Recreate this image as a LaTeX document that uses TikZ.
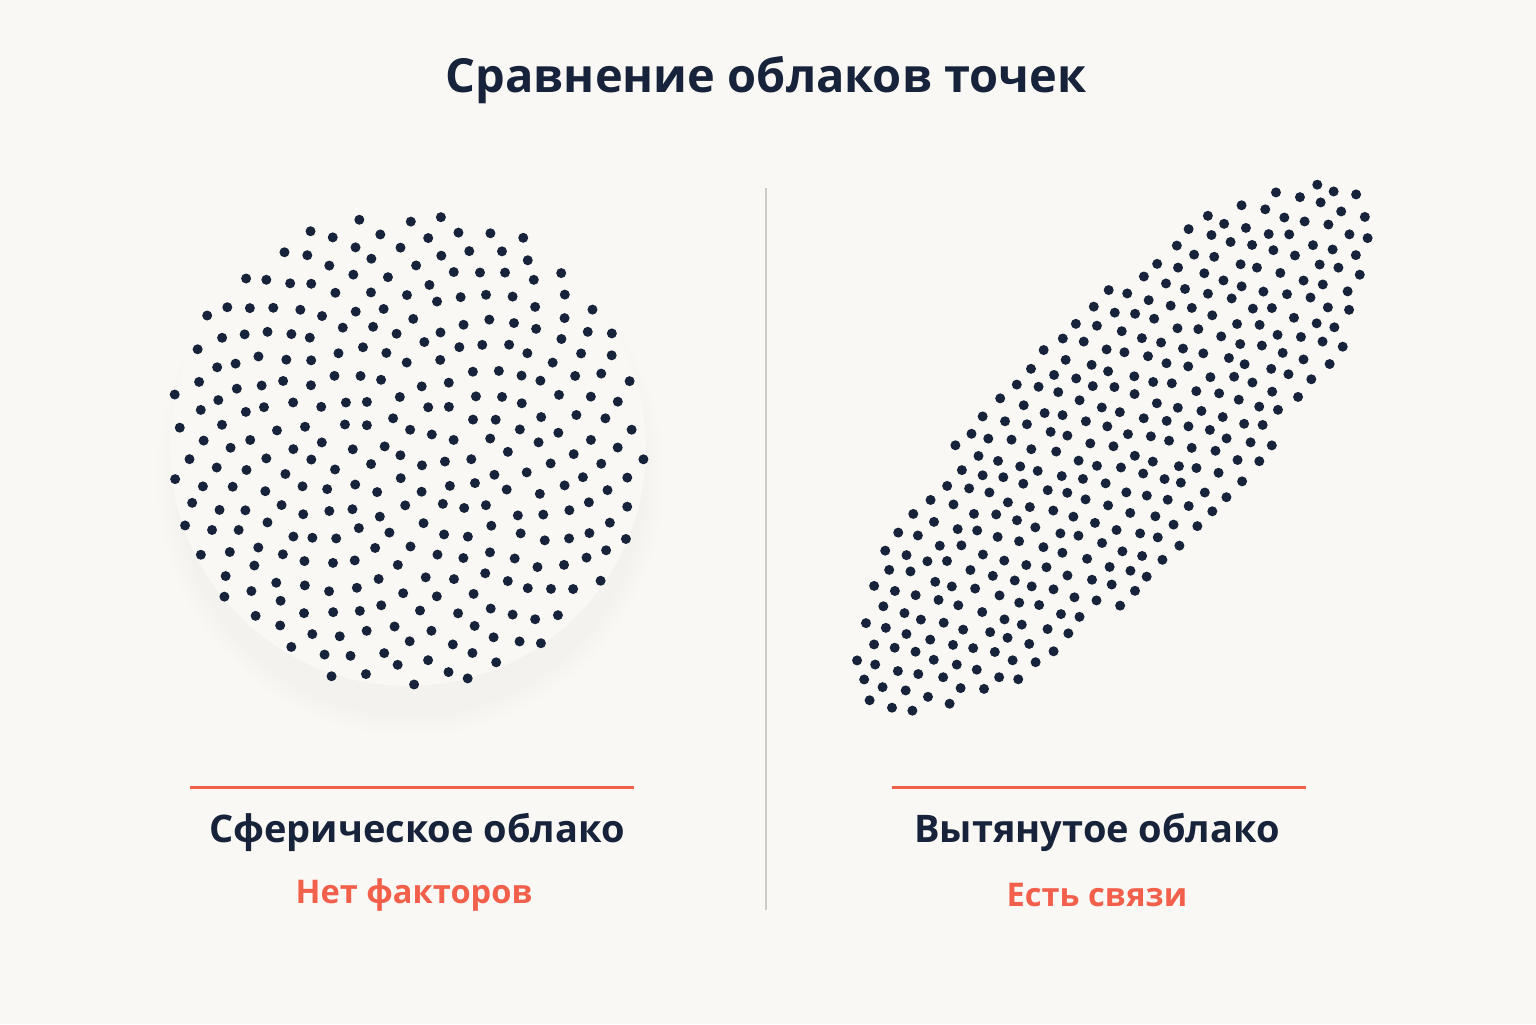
\documentclass[tikz,border=0pt]{standalone}
\usepackage{fontspec}
\setmainfont{Open Sans}
\definecolor{bg}{HTML}{FAF8F4}
\definecolor{navy}{HTML}{17233A}
\definecolor{coral}{HTML}{F2604C}
\definecolor{divgray}{HTML}{CDCBC8}
\begin{document}
\begin{tikzpicture}[x=0.5pt,y=-0.5pt,
  cloudpt/.style={fill=navy},
  heading/.style={font=\bfseries\fontsize{23.5}{28}\selectfont, text=navy},
  caption/.style={font=\bfseries\fontsize{19}{22}\selectfont, text=navy},
  subcap/.style={font=\bfseries\fontsize{16.3}{18}\selectfont, text=coral},
  accent/.style={draw=coral, line width=1.5pt},
  divider/.style={draw=divgray, line width=1pt}]
\fill[bg] (0,0) rectangle (1536,1024);
\useasboundingbox (0,0) rectangle (1536,1024);
\pgfmathsetseed{7}
% soft shadow under the sphere
\foreach \k in {1,...,6}{
  \fill[black, opacity=0.003] (410,476) ellipse[x radius={230+\k*4}, y radius={236+\k*4}];
}
\fill[bg] (408,448) circle[radius=238];
% spherical cloud (sunflower pattern)
\foreach \i in {1,...,300}{
  \pgfmathsetmacro\fr{\i*0.381966-floor(\i*0.381966)}
  \pgfmathsetmacro\t{360*\fr}
  \pgfmathsetmacro\r{240*sqrt((\i-0.5)/300)}
  \pgfmathsetmacro\jx{3*rand}
  \pgfmathsetmacro\jy{3*rand}
  \fill[cloudpt] ({408+\r*cos(\t)+\jx},{448+\r*sin(\t)+\jy}) circle[radius=2.5pt];
}
% elongated cloud (hex grid in rotated ellipse)
\foreach \j in {-6,...,6}{
  \foreach \k in {-17,...,17}{
    \pgfmathsetmacro\u{(\k+0.5*mod(abs(\j),2))*22}
    \pgfmathsetmacro\v{\j*22*0.866}
    \pgfmathparse{(abs(\u)/352)^2.4+(abs(\v)/120)^2<=1 ? 1 : 0}
    \ifdim\pgfmathresult pt>0.5pt
      \pgfmathsetmacro\jx{3*rand}
      \pgfmathsetmacro\jy{3*rand}
      \fill[cloudpt] ({1113+\u*0.695+\v*0.719+\jx},{448-\u*0.719+\v*0.695+\jy}) circle[radius=2.5pt];
    \fi
  }
}
% divider
\path[divider] (766,188) -- (766,910);
% accent lines
\path[accent] (190,787) -- (634,787);
\path[accent] (892,787) -- (1306,787);
% texts
\node[heading] (title) at (766,80) {Сравнение облаков точек};
\node[caption] (ltitle) at (417,832) {Сферическое облако};
\node[subcap] (lsub) at (414,895) {Нет факторов};
\node[caption] (rtitle) at (1097,832) {Вытянутое облако};
\node[subcap] (rsub) at (1097,895) {Есть связи};
\end{tikzpicture}
\end{document}
